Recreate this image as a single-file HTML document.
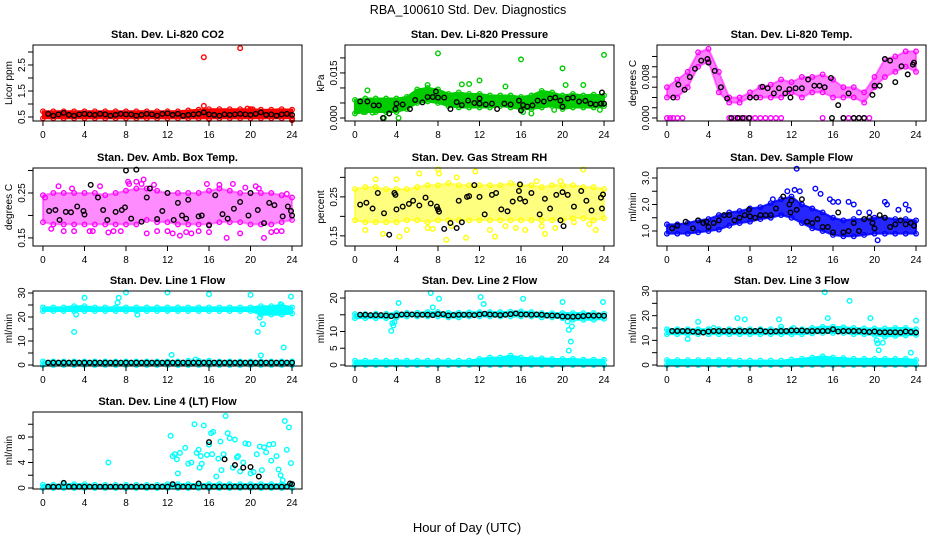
<!DOCTYPE html>
<html><head><meta charset="utf-8">
<style>
html,body{margin:0;padding:0;background:#fff;}
svg{display:block;font-family:"Liberation Sans",sans-serif;}
</style></head>
<body>
<svg id="chart" width="936" height="540" viewBox="0 0 936 540" xmlns="http://www.w3.org/2000/svg">
<rect width="936" height="540" fill="#fff"/>
<text x="468" y="14" font-size="12.5" text-anchor="middle">RBA_100610  Std. Dev. Diagnostics</text>
<text x="467" y="532" font-size="13" text-anchor="middle">Hour of Day (UTC)</text>
</svg>
<script>
// shared data
const hours = [0,1,2,3,4,5,6,7,8,9,10,11,12,13,14,15,16,17,18,19,20,21,22,23,24];
const blkT = [0.5,1,1.5,2,2.5,3,3.5,4,4.5,5,5.5,6,6.5,7,7.5,8,8.5,9,9.5,10,10.5,11,11.5,12,12.5,13,13.5,14,14.5,15,15.5,16,16.5,17,17.5,18,18.5,19,19.5,20,20.5,21,21.5,22,22.5,23,23.5,24];
const xTicks = [0,4,8,12,16,20,24];

// P1 CO2
const co2Lo = [0.45,0.45,0.45,0.45,0.45,0.45,0.45,0.45,0.45,0.45,0.45,0.45,0.45,0.45,0.45,0.45,0.45,0.45,0.45,0.45,0.45,0.45,0.45,0.45,0.45];
const co2Hi = [0.72,0.72,0.72,0.72,0.72,0.72,0.72,0.72,0.72,0.72,0.72,0.72,0.72,0.72,0.75,0.78,0.8,0.8,0.8,0.8,0.8,0.78,0.78,0.8,0.78];
const co2OutX = [15.5,19,15.5,24,19.7,16,20.2];
const co2OutY = [2.8,3.15,0.93,0.38,0.82,0.42,0.8];
const co2Blk = [0.62,0.55,0.6,0.66,0.58,0.55,0.6,0.62,0.6,0.58,0.62,0.6,0.55,0.58,0.62,0.6,0.6,0.55,0.58,0.62,0.6,0.55,0.62,0.64,0.58,0.62,0.55,0.58,0.6,0.62,0.68,0.6,0.58,0.55,0.6,0.58,0.6,0.62,0.6,0.58,0.62,0.68,0.58,0.6,0.55,0.6,0.62,0.58];

// P2 Pressure
const prLo = [0.0015,0.002,0.002,0.002,0.002,0.003,0.005,0.0055,0.005,0.004,0.0035,0.0035,0.0035,0.0035,0.004,0.0035,0.003,0.003,0.0035,0.004,0.003,0.0035,0.0035,0.0035,0.004];
const prHi = [0.006,0.0065,0.0065,0.0065,0.0065,0.007,0.0095,0.01,0.0095,0.008,0.0085,0.008,0.008,0.0075,0.0075,0.0075,0.007,0.0075,0.009,0.0085,0.0075,0.008,0.0075,0.0078,0.0075];
const prOutX = [8,16,24,20,12,1.2,4.2,2.8,23.6,19.2,17,16.2,10.3,11,14.5,20.3,22,7,0.8,1.7];
const prOutY = [0.0215,0.0195,0.021,0.0165,0.0125,0.0092,0.0,0.0,0.0027,0.0027,0.0015,0.002,0.0112,0.0113,0.0105,0.011,0.011,0.011,0.002,0.0018];
const prBlkX = [0.5,1.2,1.8,2.3,2.7,3.3,3.9,4,4.6,5.3,5.8,6.5,7,7.5,7.8,8,8.6,9.2,9.8,10.3,10.9,11.5,12,12,12.6,13.2,13.7,14.4,15,15.8,16,16.2,16.6,17.1,17.6,18.2,18.8,19.3,19.8,20,20.5,21,21.6,22.2,22.7,23.2,23.7,23.8,24];
const prBlkY = [0.0055,0.0055,0.0042,0.0042,0,0.0015,0.003,0.0048,0.0045,0.003,0.006,0.0052,0.007,0.007,0.0088,0.0068,0.0068,0.003,0.0053,0.0043,0.0058,0.005,0.0048,0.0065,0.0045,0.0048,0.003,0.0048,0.0045,0.0058,0.0025,0.0043,0.0038,0.0042,0.0058,0.0055,0.0065,0.0068,0.0058,0.0038,0.0065,0.0068,0.0055,0.0057,0.0048,0.0045,0.0048,0.0085,0.0048];

// P3 Temp
const tmLo = [0.004,0.004,0.006,0.01,0.011,0.005,0.003,0.003,0.004,0.004,0.004,0.004,0.005,0.004,0.005,0.005,0.004,0.004,0.004,0.003,0.006,0.008,0.009,0.01,0.009];
const tmHi = [0.006,0.0075,0.009,0.0128,0.0135,0.009,0.004,0.004,0.005,0.006,0.0065,0.0075,0.007,0.008,0.008,0.0085,0.0075,0.006,0.006,0.005,0.008,0.0115,0.012,0.013,0.013];
const tmZeroX = [0,0.3,0.6,1,1.5,6,6.5,7,7.5,8,8.5,9,9.5,10,10.5,11,15,17,17.5,18,18.5,19,19.5];
const tmZeroY = [0,0,0,0,0,0,0,0,0,0,0,0,0,0,0,0,0,0,0,0,0,0,0];
const tmBlkX = [0.6,1.1,1.7,2.2,2.7,3.3,3.9,4,4.6,5.2,5.8,6.2,6.8,7.3,7.9,8,8.6,9.2,9.7,10.3,10.8,11.4,11.8,11.9,12.4,13,13.6,14.2,14.7,15.2,15.8,15.9,16.5,17,17.5,18,18.5,19,19.8,20,20.5,21,21.5,22,22.6,23.2,23.7,23.8];
const tmBlkY = [0.004,0.0065,0.0055,0.008,0.0096,0.0112,0.0115,0.0108,0.0092,0.006,0.0038,0,0,0,0,0.004,0.004,0.0061,0.0058,0.0048,0.0058,0.0048,0.0056,0.004,0.0058,0.0058,0.0075,0.0063,0.0063,0.006,0.0078,0,0.0025,0,0.0048,0,0,0,0.0045,0.0063,0.0063,0.0115,0.0112,0.007,0.0101,0.0085,0.0104,0.0108];

// P4 Amb box temp
const abLo = [0.185,0.18,0.18,0.18,0.18,0.18,0.18,0.18,0.18,0.18,0.19,0.185,0.185,0.18,0.18,0.18,0.18,0.185,0.185,0.185,0.18,0.18,0.18,0.185,0.19];
const abHi = [0.245,0.25,0.25,0.25,0.25,0.25,0.245,0.25,0.255,0.26,0.26,0.255,0.25,0.25,0.25,0.25,0.255,0.26,0.255,0.25,0.25,0.25,0.25,0.245,0.24];
const abOutX = [0.8,1.5,2,3,4.5,5.5,6.3,7.5,8.2,9.5,10,11,12.5,13.2,14.3,15,16,17,18.3,19.5,20.5,21.3,22,23,0.2,2.8,4.8,6.8,9,10.7,12,13.8,15.8,17.7,19,20.8,22.5,23.5,8.3,9.7];
const abOutY = [0.17,0.265,0.165,0.165,0.165,0.265,0.162,0.165,0.275,0.27,0.16,0.165,0.16,0.155,0.16,0.165,0.163,0.268,0.27,0.262,0.265,0.15,0.163,0.165,0.24,0.26,0.165,0.165,0.275,0.268,0.165,0.163,0.27,0.15,0.16,0.26,0.165,0.248,0.27,0.28];
const abBlkX = [0.6,1.2,1.6,2.2,2.7,3.3,3.9,4,4.6,5.3,5.8,6.2,7,7.6,7.9,8,8.5,9,9.5,10,10.3,11,11.5,12,12.6,13,13.4,13.8,14,15,15.3,16,16.6,17.3,17.8,18.4,19,19.8,20,20.7,21.3,21.8,22.3,23.1,23.6,23.9,24];
const abBlkY = [0.21,0.212,0.19,0.208,0.207,0.22,0.21,0.202,0.268,0.24,0.212,0.19,0.208,0.212,0.218,0.3,0.193,0.302,0.186,0.24,0.26,0.192,0.21,0.25,0.19,0.228,0.2,0.193,0.235,0.198,0.2,0.178,0.245,0.203,0.193,0.215,0.23,0.2,0.25,0.212,0.183,0.228,0.223,0.198,0.22,0.21,0.2];

// P5 Gas stream RH
const rhLo = [0.19,0.185,0.185,0.185,0.185,0.19,0.19,0.185,0.19,0.19,0.19,0.19,0.19,0.19,0.19,0.19,0.19,0.19,0.19,0.19,0.19,0.195,0.195,0.19,0.195];
const rhHi = [0.27,0.275,0.275,0.27,0.27,0.27,0.275,0.28,0.28,0.285,0.28,0.28,0.28,0.28,0.28,0.285,0.28,0.28,0.275,0.28,0.28,0.28,0.275,0.275,0.27];
const rhOutX = [1,2,2.7,4.3,5,6.2,7.5,8,8.1,8.8,9.3,10.7,11.6,13.5,15.5,16.4,17.5,18.3,19.3,21.1,22,23.2,4,7,9.8,13,14.5,18,19.8,22.6];
const rhOutY = [0.165,0.295,0.155,0.148,0.165,0.31,0.168,0.32,0.31,0.14,0.175,0.145,0.315,0.148,0.17,0.165,0.29,0.155,0.17,0.185,0.32,0.165,0.295,0.17,0.3,0.165,0.175,0.175,0.29,0.18];
const rhBlkX = [0.5,1.1,1.7,2.2,2.8,3.3,3.8,3.9,4,4.6,5.2,5.6,6.2,6.8,7.3,7.9,8,8.1,8.6,9.2,9.8,10,10.3,10.8,11,11.5,12,12.5,13.2,13.6,14.1,14.7,15.2,15.8,15.9,15.9,16.4,17,17.8,18.3,18.8,19.4,19.8,20,20.1,20.5,21.1,21.8,22.3,22.8,23.7,23.8,23.9];
const rhBlkY = [0.23,0.235,0.22,0.26,0.208,0.153,0.26,0.255,0.218,0.225,0.232,0.24,0.228,0.248,0.233,0.225,0.218,0.212,0.168,0.183,0.17,0.24,0.185,0.25,0.252,0.28,0.25,0.205,0.255,0.26,0.218,0.213,0.238,0.265,0.245,0.282,0.238,0.26,0.205,0.245,0.22,0.255,0.19,0.262,0.175,0.255,0.225,0.265,0.24,0.215,0.248,0.22,0.256];

// P6 Sample flow
const sfLo = [0.9,0.9,0.9,0.95,1.0,1.05,1.2,1.3,1.35,1.45,1.5,1.6,1.5,1.3,1.1,1.0,0.85,0.8,0.8,0.85,0.9,0.9,0.9,0.9,0.9];
const sfHi = [1.25,1.25,1.3,1.4,1.45,1.6,1.7,1.75,1.85,1.9,2.05,2.2,2.3,2.0,1.85,1.7,1.5,1.4,1.45,1.45,1.5,1.5,1.45,1.45,1.4];
const sfOutX = [12.5,12.3,14.3,14.8,16.5,17.5,18,18.5,19.5,20.3,21,21.2,22.3,23,23.3,15.7,16,11.6,12.8,10.2];
const sfOutY = [3.35,2.55,2.6,2.4,2.1,2.1,2.0,1.7,1.7,0.65,2.1,2.0,1.8,2.0,1.8,2.2,2.1,2.5,2.5,2.2];
const sfBlkX = [0.5,1,1.8,2.5,3,3.5,3.8,4,4.5,5,5.5,6,6.5,7,7.5,7.9,8,8.5,9,9.5,10,10.5,11.2,11.8,11.9,12,12.5,13,13.5,14,14.5,15,15.5,16,16.5,17,17.5,18,18.5,19,19.5,19.8,20,20.5,21,21.5,22,22.5,23,23.5,23.8];
const sfBlkY = [1.1,1.2,1.35,1.1,1.4,1.3,1.35,1.15,1.3,1.4,1.6,1.6,1.4,1.5,1.6,1.8,1.55,1.5,1.6,1.6,1.6,1.85,2.3,2.0,1.7,2.15,1.8,2.2,1.35,1.3,1.45,1.15,1.15,0.95,1.7,0.95,1.0,1.3,1.0,1.45,1.5,1.3,1.1,1.6,1.5,1.15,1.25,1.4,1.25,1.3,1.2];

// P7 Line 1 flow
const l1TopLo = [22.5,22.5,22.5,22.5,22.5,22.5,22.5,22.5,22.5,22.5,22.5,22.5,22.5,22.5,22.5,22.5,22.5,22.5,22.5,22.5,22.5,21,21,21,21.5];
const l1TopHi = [24,24,24,24.5,24.5,24,24,24,24,24,24,24,24,24,24,24,24,24,24,24,24,24.5,24.5,25,24];
const l1BotLo = [0,0,0,0,0,0,0,0,0,0,0,0,0,0,0,0,0,0,0,0,0,0,0,0,0];
const l1BotHi = [1.5,1.5,1.5,1.5,1.5,1.5,1.5,1.5,1.5,1.5,1.5,1.5,1.5,1.5,1.8,1.8,1.8,1.5,1.5,1.5,1.5,1.5,1.5,1.5,1.5];
const l1OutX = [3,3.2,4,7.3,7.2,8,9.1,12,12.4,14.7,16,20,20.7,20.9,21,21.2,23.2,23.9,22.9];
const l1OutY = [13.8,21,28,28,26,30.2,21,30.2,4.2,2.3,29.5,29.2,13.8,19.8,4,17,7.3,28.5,25.3];
const l1Blk = [1,1,1,1,1,1,1,1,1,1,1,1,1,1,1,1,1,1,1,1,1,1,1,1,1,1,1,1,1,1,1,1,1,1,1,1,1,1,1,1,1,1,1,1,1,1,1,1];

// P8 Line 2 flow
const l2TopLo = [14,14,14,14,14.2,14.5,14.5,14.5,14.5,14.2,14.2,14.5,14.5,14.5,14.5,14.5,14.5,14.5,14.2,14.2,14,13.5,13.5,13.5,13.8];
const l2TopHi = [15.2,15.2,15.3,15.3,15.5,15.6,15.6,15.8,15.8,15.6,15.6,15.7,15.8,15.8,15.8,15.9,16,15.8,15.5,15.5,15.5,15.5,15.5,15.5,15.3];
const l2BotLo = [0,0,0,0,0,0,0,0,0,0,0,0,0,0,0,0,0,0,0,0,0,0,0,0,0];
const l2BotHi = [1.3,1.3,1.3,1.3,1.3,1.3,1.3,1.3,1.3,1.3,1.3,1.3,1.8,2.2,2.2,2.8,2.2,2,2,1.8,1.8,1.8,1.6,1.6,1.5];
const l2OutX = [3.5,3.6,3.8,4.2,7.3,7.5,8.1,12.1,12.4,16.2,20,20.5,20.6,20.8,20.6,23.9,20.9,3.7];
const l2OutY = [10.2,12.5,12.8,18.5,21.5,17.2,19.8,20.3,18.2,19.8,18.8,13,10.5,7,4.3,18.8,11.5,11.8];
const l2Blk = [15,15,14.9,14.9,14.9,14.8,14.6,14.8,15.1,15.1,15.1,15,15,15,14.9,15.2,15.2,14.8,14.9,15,15,15,14.9,15.1,15.3,15.1,15,14.9,15,15.2,15.4,15.1,15.1,15,15.1,15,14.8,14.8,14.7,14.5,14.4,14.4,14.5,14.6,14.8,14.7,14.8,14.7];

// P9 Line 3 flow
const l3TopLo = [12.5,12.5,12.5,12.5,12.5,12.5,12.5,12.5,12.5,12.5,12.5,12.5,12.5,12.5,12.8,13,13,13,12.5,12.5,12.2,11.5,11.8,12,12.2];
const l3TopHi = [14.5,14.5,14.5,14.5,14.5,14.5,14.5,14.5,14.5,14.5,14.5,14.5,14.5,14.5,15,15.5,15.5,15.3,15,14.8,14.8,14.8,15,15,14.5];
const l3BotLo = [0,0,0,0,0,0,0,0,0,0,0,0,0,0,0,0,0,0,0,0,0,0,0,0,0];
const l3BotHi = [2,2,2,2,2,2,2,1.8,1.8,1.8,1.8,1.8,2.2,2.5,3,3.5,3,2.8,2.5,2.5,2.5,2.5,2.5,2.5,2];
const l3OutX = [2,3,6.8,7.5,10.8,11,15.2,15.5,17.6,19.6,20.2,20.3,20.4,20.8,23.5,24,4.5,12.2];
const l3OutY = [10.5,17.5,19,18.5,18.5,15.5,29.5,19,26,19,10,8.8,6,9,5,18,15,15];
const l3Blk = [13.8,13.8,13.8,13.8,13.6,13.4,13.2,13.6,13.8,13.8,13.8,13.8,13.8,13.8,13.8,13.8,13.8,14,13.6,13.6,13.7,13.8,13.8,14,14,14,13.8,13.8,13.8,13.8,13.8,14.5,13.6,13.8,13.8,13.8,13.8,13.6,13.4,13.6,13.3,13.3,13.3,13.3,13.2,13.6,13.4,13.2];

// P10 Line 4 (LT) flow
const l4Lo = [0,0,0,0,0,0,0,0,0,0,0,0,0,0,0,0,0,0,0,0,0,0,0,0,0];
const l4Hi = [0.5,0.5,0.6,0.6,0.6,0.5,0.5,0.5,0.5,0.5,0.5,0.5,0.6,0.6,0.6,0.6,0.6,0.6,0.6,0.6,0.6,0.6,0.6,0.6,0.6];
const l4OutX = [6.3,12.3,12.5,12.7,12.9,13,13.7,14,14.3,14.6,14.8,15,15.1,15.3,15.5,15.8,16,16.2,16.4,16.7,16.9,17.1,17.4,17.6,17.8,18,18.3,18.5,18.8,19,19.3,19.5,19.8,20,20.3,20.6,20.9,21.1,21.3,21.5,21.8,22,22.2,22.5,22.7,22.9,23.1,23.3,23.5,23.7,23.9,13.2,15.2,16.3,17.2,18.7];
const l4OutY = [4,8.2,5,5.3,4.5,2.3,6.3,3.8,4,10,5.5,6,3.2,3.8,9.8,5.2,6.8,8.6,8.8,1.8,4.6,7.3,5.3,11.3,8.6,7.8,3.2,7.6,5,2.6,4,7,6.9,2.3,2.5,5.3,6.5,2.8,6.4,5.6,6.8,4.3,6.9,5,2.9,2,1.2,10.5,6,9.5,3.9,5.5,5,5.3,2.8,4.8];
const l4Blk = [0.2,0.2,0.2,0.8,0.2,0.2,0.2,0.2,0.2,0.2,0.2,0.2,0.2,0.2,0.2,0.2,0.2,0.2,0.2,0.2,0.2,0.2,0.2,0.2,0.6,0.2,0.2,0.2,0.2,0.7,0.2,0.2,0.2,0.2,0.2,0.2,0.2,0.2,0.2,0.2,0.2,0.2,0.2,0.2,0.2,0.2,0.2,0.6];
const l4BlkX = [16,17.5,18.5,19.3,20,20.8,23.8];
const l4BlkY = [7.2,4.5,3.6,3.2,3.3,1.8,0.7];

const svg = document.getElementById('chart');
const NS = 'http://www.w3.org/2000/svg';
function mk(tag, attrs, parent){
  const e = document.createElementNS(NS, tag);
  for (const k in attrs) e.setAttribute(k, attrs[k]);
  (parent||svg).appendChild(e);
  return e;
}

function panel(p){
  const g = mk('g', {});
  
  
  const L = p.box[0], T = p.box[1], R = p.box[2], B = p.box[3];
  const xs = v => L + (v + 0.96) / 25.92 * (R - L);
  const ys = v => B - (v - p.ylim[0]) / (p.ylim[1] - p.ylim[0]) * (B - T);
  const plot = mk('g', {}, g);
  
  
  (p.bands||[]).forEach(b => {
    let pts = hours.map((h,i) => xs(h)+','+ys(b.hi[i]));
    pts = pts.concat(hours.map((h,i) => xs(h)+','+ys(b.lo[i])).reverse());
    const poly = mk('polygon', {points: pts.join(' '), fill: p.color, 'fill-opacity': b.op||1, stroke: p.color, 'stroke-width': 2, 'stroke-opacity': b.op||1}, plot);
    
    
    hours.forEach((h,i) => {
      [b.hi[i], b.lo[i]].forEach(v => {
        const c = mk('circle', {cx: xs(h), cy: ys(v), r: 2.3, fill: 'none', stroke: p.color, 'stroke-width': 1.3}, plot);
        
        
      });
    });
  });
  (p.pts||[]).forEach(s => {
    s.x.forEach((xv,i) => {
      const c = mk('circle', {cx: xs(xv), cy: ys(s.y[i]), r: 2.3, fill: 'none', stroke: s.color||p.color, 'stroke-width': 1.4}, plot);
      
      
    });
  });
  const bx = mk('rect', {x: L, y: T, width: R-L, height: B-T, fill: 'none', stroke: '#000', 'stroke-width': 1}, g);
  
  
  xTicks.forEach(t => {
    const ln = mk('line', {x1: xs(t), x2: xs(t), y1: B, y2: B+5, stroke: '#000'}, g);
    
    
    const tx = mk('text', {x: xs(t), y: B+17, 'font-size': 10, 'text-anchor': 'middle'}, g);
    tx.textContent = t;
    
    
  });
  p.yTicks.forEach(t => {
    const ln = mk('line', {x1: L-5, x2: L, y1: ys(t), y2: ys(t), stroke: '#000'}, g);
    
    
  });
  p.yLabels.forEach(t => {
    const tx = mk('text', {x: 0, y: 0, 'font-size': 10, 'text-anchor': 'middle', transform: 'translate(' + (L-8) + ',' + ys(t) + ') rotate(-90)'}, g);
    tx.textContent = t;
    
    
  });
  const yt = mk('text', {x: 0, y: 0, 'font-size': 10, 'text-anchor': 'middle', transform: 'translate(' + (L-21) + ',' + ((T+B)/2) + ') rotate(-90)'}, g);
  yt.textContent = p.ylab;
  
  
  const tt = mk('text', {x: (L+R)/2, y: T-7, 'font-size': 11, 'font-weight': 'bold', 'text-anchor': 'middle'}, g);
  tt.textContent = p.title;
  
  
}

const C1 = 33, C2 = 345, C3 = 657, W = 269;
const R1 = [45,121], R2 = [168,246], R3 = [291,366], R4 = [412,489];
const BK = '#000';

panel({name:'panel-co2', title:'Stan. Dev. Li-820 CO2', ylab:'Licor ppm', color:'#ff0000', box:[C1,R1[0],C1+W,R1[1]], ylim:[0.346,3.27],
  yTicks:[0.5,1,1.5,2,2.5,3], yLabels:['0.5','1.5','2.5'],
  bands:[{lo:co2Lo, hi:co2Hi}], pts:[{x:co2OutX, y:co2OutY}, {x:blkT, y:co2Blk, color:BK, black:true}]});
panel({name:'panel-pressure', title:'Stan. Dev. Li-820 Pressure', ylab:'kPa', color:'#00cc00', box:[C2,R1[0],C2+W,R1[1]], ylim:[-0.001,0.0243],
  yTicks:[0,0.005,0.01,0.015,0.02], yLabels:['0.000','0.015'],
  bands:[{lo:prLo, hi:prHi}], pts:[{x:prOutX, y:prOutY}, {x:prBlkX, y:prBlkY, color:BK, black:true}]});
panel({name:'panel-li820-temp', title:'Stan. Dev. Li-820 Temp.', ylab:'degrees C', color:'#ff00ff', box:[C3,R1[0],C3+W,R1[1]], ylim:[-0.00059,0.01424],
  yTicks:[0,0.002,0.004,0.006,0.008,0.01,0.012], yLabels:['0.000','0.008'],
  bands:[{lo:tmLo, hi:tmHi, op:0.5}], pts:[{x:tmZeroX, y:tmZeroY}, {x:tmBlkX, y:tmBlkY, color:BK, black:true}]});
panel({name:'panel-amb-box-temp', title:'Stan. Dev. Amb. Box Temp.', ylab:'degrees C', color:'#ff00ff', box:[C1,R2[0],C1+W,R2[1]], ylim:[0.132,0.3056],
  yTicks:[0.15,0.2,0.25,0.3], yLabels:['0.15','0.25'],
  bands:[{lo:abLo, hi:abHi, op:0.45}], pts:[{x:abOutX, y:abOutY}, {x:abBlkX, y:abBlkY, color:BK, black:true}]});
panel({name:'panel-gas-stream-rh', title:'Stan. Dev. Gas Stream RH', ylab:'percent', color:'#ffff00', box:[C2,R2[0],C2+W,R2[1]], ylim:[0.124,0.324],
  yTicks:[0.15,0.2,0.25,0.3], yLabels:['0.15','0.25'],
  bands:[{lo:rhLo, hi:rhHi, op:0.5}], pts:[{x:rhOutX, y:rhOutY}, {x:rhBlkX, y:rhBlkY, color:BK, black:true}]});
panel({name:'panel-sample-flow', title:'Stan. Dev. Sample Flow', ylab:'ml/min', color:'#0000ff', box:[C3,R2[0],C3+W,R2[1]], ylim:[0.434,3.377],
  yTicks:[1,1.5,2,2.5,3], yLabels:['1.0','2.0','3.0'],
  bands:[{lo:sfLo, hi:sfHi, op:0.85}], pts:[{x:sfOutX, y:sfOutY}, {x:sfBlkX, y:sfBlkY, color:BK, black:true}]});
panel({name:'panel-line1-flow', title:'Stan. Dev. Line 1 Flow', ylab:'ml/min', color:'#00ffff', box:[C1,R3[0],C1+W,R3[1]], ylim:[-0.42,30.83],
  yTicks:[0,5,10,15,20,25,30], yLabels:['0','10','20','30'],
  bands:[{lo:l1TopLo, hi:l1TopHi}, {lo:l1BotLo, hi:l1BotHi}], pts:[{x:l1OutX, y:l1OutY}, {x:blkT, y:l1Blk, color:BK, black:true}]});
panel({name:'panel-line2-flow', title:'Stan. Dev. Line 2 Flow', ylab:'ml/min', color:'#00ffff', box:[C2,R3[0],C2+W,R3[1]], ylim:[-0.3,22.1],
  yTicks:[0,5,10,15,20], yLabels:['0','5','10','20'],
  bands:[{lo:l2TopLo, hi:l2TopHi}, {lo:l2BotLo, hi:l2BotHi}], pts:[{x:l2OutX, y:l2OutY}, {x:blkT, y:l2Blk, color:BK, black:true}]});
panel({name:'panel-line3-flow', title:'Stan. Dev. Line 3 Flow', ylab:'ml/min', color:'#00ffff', box:[C3,R3[0],C3+W,R3[1]], ylim:[-0.4,30],
  yTicks:[0,5,10,15,20,25,30], yLabels:['0','10','20','30'],
  bands:[{lo:l3TopLo, hi:l3TopHi}, {lo:l3BotLo, hi:l3BotHi}], pts:[{x:l3OutX, y:l3OutY}, {x:blkT, y:l3Blk, color:BK, black:true}]});
panel({name:'panel-line4-lt-flow', title:'Stan. Dev. Line 4 (LT) Flow', ylab:'ml/min', color:'#00ffff', box:[C1,R4[0],C1+W,R4[1]], ylim:[-0.157,11.92],
  yTicks:[0,2,4,6,8,10], yLabels:['0','4','8'],
  bands:[{lo:l4Lo, hi:l4Hi}], pts:[{x:l4OutX, y:l4OutY}, {x:blkT, y:l4Blk, color:BK, black:true}, {x:l4BlkX, y:l4BlkY, color:BK, black:true}]});
</script>
</body></html>
